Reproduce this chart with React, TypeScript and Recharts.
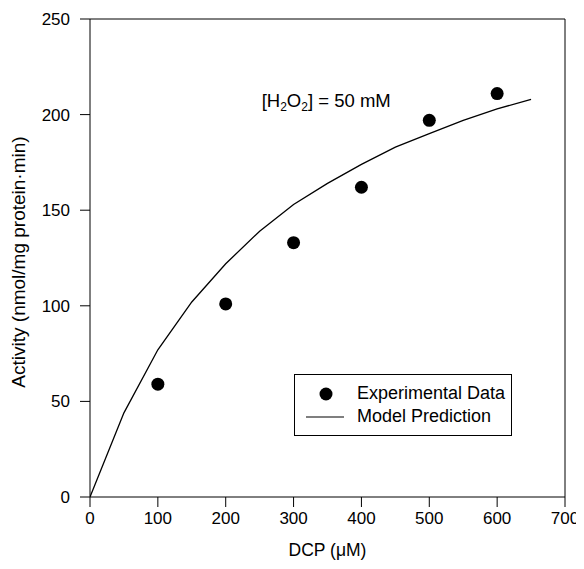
import React from "react";
import {
  ComposedChart,
  Line,
  Scatter,
  XAxis,
  YAxis,
  ReferenceLine,
  ReferenceDot,
} from "recharts";

const dcpExperimental = [100, 200, 300, 400, 500, 600];
const activityExperimental = [59, 101, 133, 162, 197, 211];

const dcpModel = [0, 50, 100, 150, 200, 250, 300, 350, 400, 450, 500, 550, 600, 650];
const activityModel = [0, 44, 77, 102, 122, 139, 153, 164, 174, 183, 190, 197, 203, 208];

const xTicks = [0, 100, 200, 300, 400, 500, 600, 700];
const yTicks = [0, 50, 100, 150, 200, 250];

const FONT = "'Liberation Sans', Arial, Helvetica, sans-serif";

const experimentalData = dcpExperimental.map((x, i) => ({ x, y: activityExperimental[i] }));
const modelData = dcpModel.map((x, i) => ({ x, y: activityModel[i] }));

const Dot = (props: any) => {
  const { cx, cy } = props;
  return <circle cx={cx} cy={cy} r={6.5} fill="#000" />;
};

const LegendBox = () => (
  <div
    style={{
      position: "absolute",
      left: 286,
      top: 366,
      width: 218,
      height: 62,
      border: "1px solid #000",
      background: "#fff",
      fontFamily: FONT,
      fontSize: 18,
      color: "#000",
      boxSizing: "border-box",
    }}
  >
    <svg width={60} height={60} style={{ position: "absolute", left: 0, top: 0 }}>
      <circle cx={31} cy={19} r={6.5} fill="#000" />
      <line x1={11} x2={49} y1={42} y2={42} stroke="#000" strokeWidth={1.2} />
    </svg>
    <div style={{ position: "absolute", left: 62, top: 8, lineHeight: "20px" }}>Experimental Data</div>
    <div style={{ position: "absolute", left: 62, top: 31, lineHeight: "20px" }}>Model Prediction</div>
  </div>
);

const ConcLabel = (props: any) => {
  const { viewBox } = props;
  const x = viewBox.cx ?? viewBox.x;
  const y = viewBox.cy ?? viewBox.y;
  return (
    <text x={x} y={y} fontFamily={FONT} fontSize={18.5} fill="#000">
      [H
      <tspan fontSize={12} dy={4}>2</tspan>
      <tspan dy={-4}>O</tspan>
      <tspan fontSize={12} dy={4}>2</tspan>
      <tspan dy={-4}>] = 50 mM</tspan>
    </text>
  );
};

const YTitle = (props: any) => {
  const { viewBox } = props;
  const x = 17;
  const y = viewBox.y + viewBox.height / 2 + 4;
  return (
    <text
      x={x}
      y={y}
      transform={`rotate(-90, ${x}, ${y})`}
      textAnchor="middle"
      fontFamily={FONT}
      fontSize={19}
      fill="#000"
    >
      Activity (nmol/mg protein{"\u00b7"}min)
    </text>
  );
};

export default function App() {
  return (
    <div style={{ position: "relative", width: 576, height: 553, background: "#fff" }}>
      <ComposedChart
        width={576}
        height={553}
        margin={{ top: 11, right: 19, bottom: 0, left: 0 }}
        style={{ overflow: "visible" }}
      >
        <XAxis
          type="number"
          dataKey="x"
          domain={[0, 700]}
          ticks={xTicks}
          allowDataOverflow
          height={64}
          tickSize={10}
          tickMargin={5}
          stroke="#000"
          tick={{ fill: "#000", fontSize: 17, fontFamily: FONT }}
          label={{
            value: "DCP (\u03bcM)",
            position: "insideBottom",
            offset: 5,
            style: { fill: "#000", fontSize: 17.5, fontFamily: FONT },
          }}
        />
        <YAxis
          type="number"
          dataKey="y"
          domain={[0, 250]}
          ticks={yTicks}
          allowDataOverflow
          width={82}
          tickSize={10}
          tickMargin={10}
          stroke="#000"
          tick={{ fill: "#000", fontSize: 17, fontFamily: FONT }}
          label={<YTitle />}
        />
        <ReferenceLine y={250} stroke="#000" strokeWidth={1} />
        <ReferenceLine x={700} stroke="#000" strokeWidth={1} />
        <Line
          data={modelData}
          dataKey="y"
          type="linear"
          stroke="#000"
          strokeWidth={1.3}
          dot={false}
          activeDot={false}
          isAnimationActive={false}
        />
        <Scatter
          data={experimentalData}
          dataKey="y"
          fill="#000"
          shape={<Dot />}
          isAnimationActive={false}
        />
        <ReferenceDot x={253} y={204} r={0} stroke="none" label={<ConcLabel />} />
      </ComposedChart>
      <LegendBox />
    </div>
  );
}
